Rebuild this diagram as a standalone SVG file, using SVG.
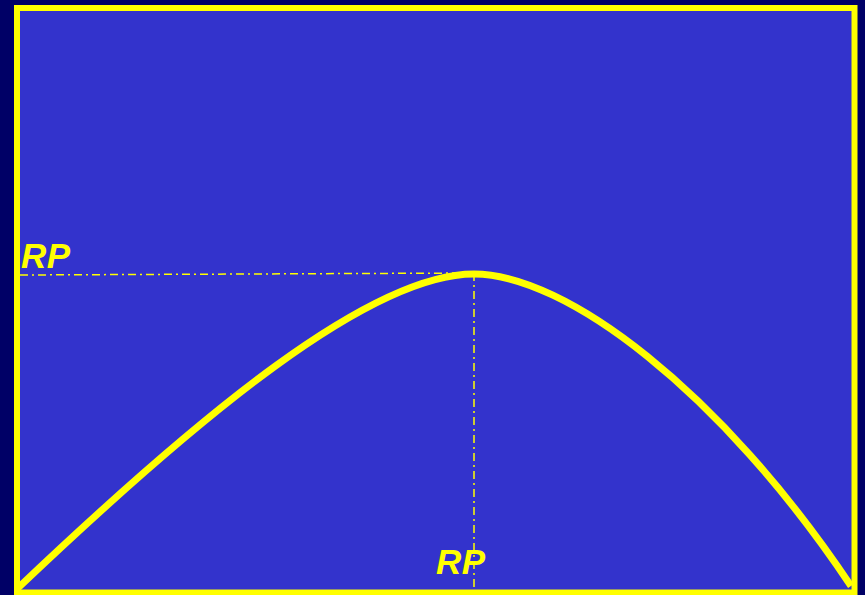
<svg xmlns="http://www.w3.org/2000/svg" width="865" height="595" viewBox="0 0 865 595">
<style>
.lbl{font-family:"Liberation Sans",Arial,sans-serif;font-weight:bold;font-style:italic;font-size:35px;letter-spacing:0.5px;fill:#ffff00}
.guide{stroke:#ffff00;stroke-width:1.5;fill:none;stroke-dasharray:8 4 2 4}
</style>
<rect x="0" y="0" width="865" height="595" fill="#000066"/>
<g id="frame"><rect x="17" y="8" width="837.5" height="584.5" fill="#3333cc" stroke="#ffff00" stroke-width="6"/></g>
<g id="connectors">
<path class="guide" d="M20 275 L474 273"/>
<path class="guide" d="M474 273 L474 590"/>
</g>
<g id="curve"><path d="M18 588 C200 415 370 274 474 274 C565 274 720 390 851 586" fill="none" stroke="#ffff00" stroke-width="7"/></g>
<g id="label-left"><text class="lbl" x="21" y="268">RP</text></g>
<g id="label-bottom"><text class="lbl" x="436" y="574">RP</text></g>
</svg>
